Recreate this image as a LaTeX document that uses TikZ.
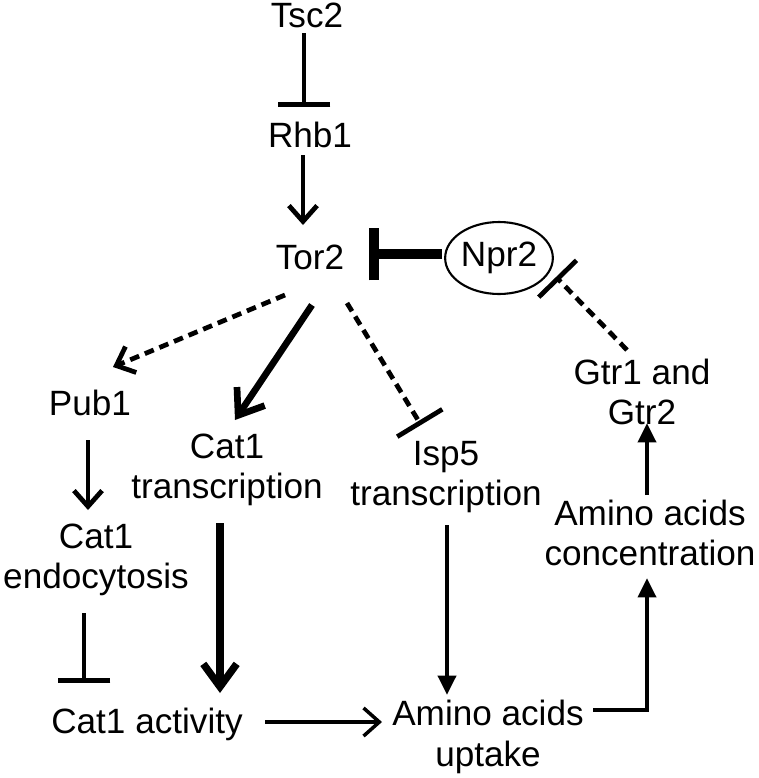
\documentclass[tikz,border=0pt]{standalone}
\usepackage{fontspec}
\setmainfont{Liberation Sans}
\usetikzlibrary{arrows.meta,calc,shapes.geometric}

\begin{document}
\begin{tikzpicture}[x=0.02cm, y=-0.02cm, font=\fontsize{20}{23}\selectfont,
  every node/.style={align=center, inner sep=0pt},
  actarr/.style={line width=2.7pt, -{Straight Barb[length=9pt,width=16pt]}},
  bigarr/.style={line width=4.2pt, -{Straight Barb[length=13pt,width=19pt]}},
  triarr/.style={line width=2.7pt, -{Triangle[length=11pt,width=10pt]}},
  inh/.style={line width=2.7pt, -{Bar[width=30pt]}},
  dsh/.style={dash pattern=on 5.5pt off 3.5pt}]
  \useasboundingbox (0,0) rectangle (759,778);
  \node (tsc) at (307,15) {Tsc2};
  \node (rhb) at (310,135) {Rhb1};
  \node (tor) at (310,257) {Tor2};
  \node[draw, ellipse, line width=1.2pt, minimum width=2.06cm, minimum height=1.44cm] (npr) at (499,258) {Npr2};
  \node (pub) at (90,403) {Pub1};
  \node (endo) at (96,560) {Cat1\\endocytosis};
  \node (act) at (147,724) {Cat1 activity};
  \node (cattr) at (227,470) {Cat1\\transcription};
  \node (isp) at (446,477) {Isp5\\transcription};
  \node (upt) at (488,737) {Amino acids\\uptake};
  \node (conc) at (650,533) {Amino acids\\concentration};
  \node (gtr) at (642,392) {Gtr1 and\\Gtr2};

  \path
  ($(tsc)+(-3,18)$) edge[inh] ($(rhb)+(-6,-28)$)
  ($(rhb)+(-7,20)$) edge[actarr] ($(tor)+(-7,-32)$)
  ($(npr)+(-57,-4)$) edge[inh, line width=5.7pt, -{Bar[width=30pt]}] ($(tor)+(59,-3)$)
  ($(gtr)+(-15,-42)$) edge[inh, dsh] ($(npr)+(57,19)$)
  ($(tor)+(-25,38)$) edge[actarr, dsh] ($(pub)+(23,-36)$)
  ($(tor)+(2,48)$) edge[bigarr, line width=3.8pt] ($(cattr)+(8,-50)$)
  ($(tor)+(37,46)$) edge[inh, dsh] ($(isp)+(-25,-52)$)
  ($(pub)+(-2,37)$) edge[actarr] ($(endo)+(-8,-50)$)
  ($(endo)+(-12,53)$) edge[inh] ($(act)+(-63,-41)$)
  ($(cattr)+(-7,53)$) edge[bigarr] ($(act)+(73,-31)$)
  ($(act)+(118,-2)$) edge[actarr, line width=2pt] ($(upt)+(-106,-15)$)
  ($(isp)+(1,48)$) edge[triarr] ($(upt)+(-41,-42)$)
  ($(conc)+(-3,-38)$) edge[triarr] ($(gtr)+(5,31)$);
  \draw[triarr] ($(upt)+(105,-27)$) -| ($(conc)+(-3,45)$);
\end{tikzpicture}
\end{document}
